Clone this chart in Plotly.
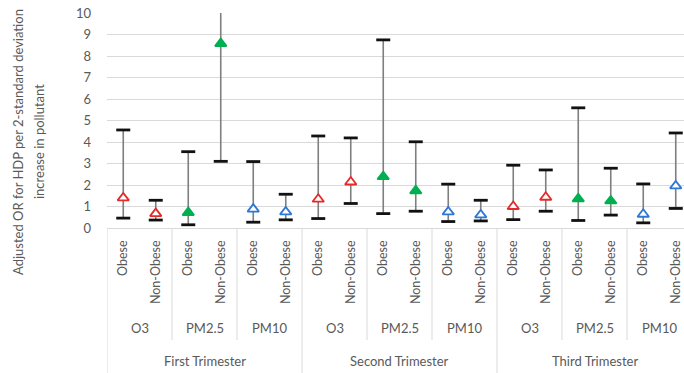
import plotly.graph_objects as go

# ---------------- data ----------------
trimesters = ["First Trimester", "Second Trimester", "Third Trimester"]
pollutants = ["O3", "PM2.5", "PM10"]
groups = ["Obese", "Non-Obese"]

# order: trimester -> pollutant -> group
or_vals = [1.40, 0.67, 0.72, 8.58, 0.88, 0.75,
           1.34, 2.14, 2.39, 1.73, 0.75, 0.61,
           1.00, 1.43, 1.36, 1.26, 0.64, 1.96]
ci_low = [0.46, 0.37, 0.15, 3.10, 0.27, 0.38,
          0.44, 1.14, 0.67, 0.78, 0.30, 0.33,
          0.39, 0.78, 0.35, 0.60, 0.24, 0.91]
ci_high = [4.56, 1.29, 3.55, 23.8, 3.09, 1.57,
           4.28, 4.19, 8.75, 4.01, 2.04, 1.29,
           2.92, 2.70, 5.59, 2.78, 2.05, 4.42]

y_ticks = [0, 1, 2, 3, 4, 5, 6, 7, 8, 9, 10]

# ---------------- layout constants ----------------
W, H = 684, 373
L, R, T, B = 107, 0, 13, 145
plot_h = H - T - B
GRAY = "#595959"
FONT = "Lato"

n = len(or_vals)
xs = list(range(n))
pol_of = [pollutants[(i // 2) % 3] for i in xs]
grp_of = [groups[i % 2] for i in xs]

colors = {"O3": "#E52A2A", "PM2.5": "#00B050", "PM10": "#2C78D6"}

fig = go.Figure()

# stems
fig.add_trace(go.Scatter(
    x=xs, y=or_vals, mode="markers",
    marker=dict(size=1, color="rgba(0,0,0,0)"),
    error_y=dict(type="data", symmetric=False,
                 array=[h - v for h, v in zip(ci_high, or_vals)],
                 arrayminus=[v - l for v, l in zip(or_vals, ci_low)],
                 color="#7F7F7F", thickness=1.6, width=0),
    hoverinfo="skip", showlegend=False))

# caps
fig.add_trace(go.Scatter(
    x=xs + xs, y=ci_low + ci_high, mode="markers",
    marker=dict(symbol="line-ew", size=10,
                line=dict(width=2.8, color="#111111")),
    hoverinfo="skip", showlegend=False))

# triangles
for p in pollutants:
    idx = [i for i in xs if pol_of[i] == p]
    filled = (p == "PM2.5")
    fig.add_trace(go.Scatter(
        x=[xs[i] for i in idx], y=[or_vals[i] for i in idx], mode="markers",
        marker=dict(symbol="triangle-up", size=10,
                    color=colors[p] if filled else "white",
                    line=dict(width=1.8, color=colors[p])),
        name=p, showlegend=False))

x_right = -0.5 + (W - L - R) / 32.5

fig.update_layout(
    width=W, height=H,
    margin=dict(l=L, r=R, t=T, b=B, pad=0),
    paper_bgcolor="white", plot_bgcolor="white",
    font=dict(family=FONT, color=GRAY, size=12),
    xaxis=dict(range=[-0.5, x_right], tickmode="array", tickvals=xs,
               ticktext=grp_of, tickangle=-90, ticks="",
               ticklabelstandoff=9, showgrid=False, zeroline=False,
               showline=False, tickfont=dict(size=12.5, color=GRAY)),
    yaxis=dict(range=[0, 10], tickmode="array", tickvals=y_ticks,
               ticks="", ticklabelstandoff=15, showgrid=True,
               gridcolor="#D9D9D9", gridwidth=1, zeroline=True,
               zerolinecolor="#D9D9D9", zerolinewidth=1,
               tickfont=dict(size=13, color=GRAY)),
)

def py(pix):
    """pixel y (from top of figure) -> paper y"""
    return (H - B - pix) / plot_h

annotations = []
shapes = []

# pollutant labels and separators
for t in range(3):
    for k, p in enumerate(pollutants):
        c = t * 6 + k * 2 + 0.5
        annotations.append(dict(x=c, y=py(328), xref="x", yref="paper",
                                text=p, showarrow=False, xanchor="center",
                                yanchor="middle", font=dict(size=13, color=GRAY)))
        if k > 0:
            xb = t * 6 + k * 2 - 0.5
            shapes.append(dict(type="line", xref="x", yref="paper",
                               x0=xb, x1=xb, y0=py(228), y1=py(340),
                               line=dict(color="#D9D9D9", width=1)))
    annotations.append(dict(x=t * 6 + 2.5, y=py(361), xref="x", yref="paper",
                            text=trimesters[t], showarrow=False, xanchor="center",
                            yanchor="middle", font=dict(size=13, color=GRAY)))
    xb = t * 6 - 0.5
    shapes.append(dict(type="line", xref="x", yref="paper",
                       x0=xb, x1=xb, y0=py(228), y1=py(373),
                       line=dict(color="#D9D9D9", width=1)))

# y-axis title (two lines)
annotations.append(dict(x=(18 - L) / (W - L - R), y=py(142), xref="paper", yref="paper",
                        text="Adjusted OR for HDP per 2-standard deviation",
                        textangle=-90, showarrow=False, xanchor="center", yanchor="middle",
                        font=dict(size=13, color=GRAY)))
annotations.append(dict(x=(39 - L) / (W - L - R), y=py(142), xref="paper", yref="paper",
                        text="increase in pollutant",
                        textangle=-90, showarrow=False, xanchor="center", yanchor="middle",
                        font=dict(size=13, color=GRAY)))

fig.update_layout(annotations=annotations, shapes=shapes)

fig.write_html("out.html")
